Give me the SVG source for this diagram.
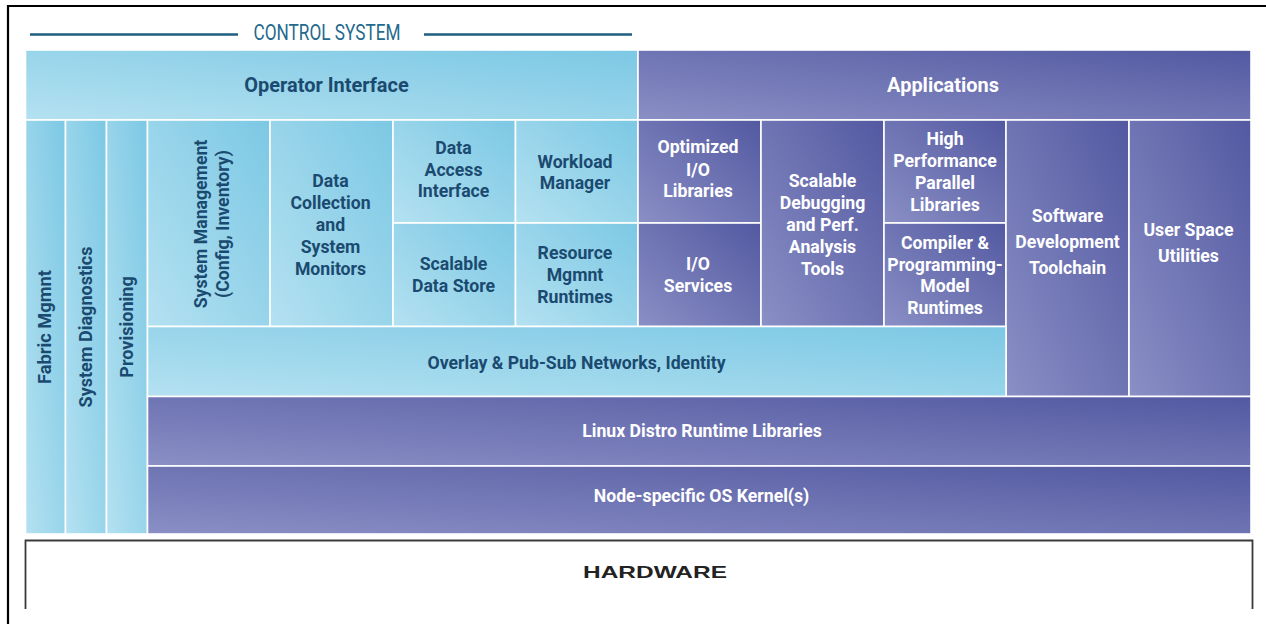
<svg xmlns="http://www.w3.org/2000/svg" width="1266" height="624" viewBox="0 0 1266 624">
<defs>
<linearGradient id="gb" x1="0" y1="1" x2="1" y2="0"><stop offset="0" stop-color="#b4e1f1"/><stop offset="1" stop-color="#7cc8e4"/></linearGradient>
<linearGradient id="gp" x1="0" y1="1" x2="1" y2="0"><stop offset="0" stop-color="#8a8fc5"/><stop offset="1" stop-color="#5359a1"/></linearGradient>
<style>
.cb{fill:url(#gb);stroke:#fff;stroke-width:1.6}
.cp{fill:url(#gp);stroke:#fff;stroke-width:1.6}
.t{font-family:Roboto,"Liberation Sans",sans-serif;font-weight:700;font-size:19px;text-anchor:middle}
.h{font-size:21px}
.b{fill:#1b4a70}
.w{fill:#fff}
</style>
</defs>
<rect width="1266" height="624" fill="#fff"/>
<path d="M8 624V6H1266" fill="none" stroke="#000" stroke-width="2.2"/>
<g id="control-system">
<line x1="30" y1="34.5" x2="238" y2="34.5" stroke="#1f5f80" stroke-width="2.5"/>
<line x1="424" y1="34.5" x2="632" y2="34.5" stroke="#1f5f80" stroke-width="2.5"/>
<text x="327" y="40" font-family="Roboto,'Liberation Sans',sans-serif" font-size="22" fill="#236a8c" text-anchor="middle" textLength="147" lengthAdjust="spacingAndGlyphs">CONTROL SYSTEM</text>
</g>
<g id="operator-interface"><rect class="cb" x="25.5" y="50" width="612.5" height="70"/><text class="t h b" transform="matrix(0.95 0 0 1 326.5 0)" x="0" y="92.5">Operator Interface</text></g>
<g id="applications"><rect class="cp" x="638" y="50" width="613" height="70"/><text class="t h w" transform="matrix(0.95 0 0 1 943 0)" x="0" y="92.5">Applications</text></g>
<g id="fabric-mgmnt"><rect class="cb" x="25.5" y="120" width="40" height="414"/><text class="t b" transform="translate(44.5 327) rotate(-90) scale(0.96 1)" x="0" y="6.8">Fabric Mgmnt</text></g>
<g id="system-diagnostics"><rect class="cb" x="65.5" y="120" width="41" height="414"/><text class="t b" transform="translate(85.5 327) rotate(-90) scale(0.95 1)" x="0" y="6.8">System Diagnostics</text></g>
<g id="provisioning"><rect class="cb" x="106.5" y="120" width="41" height="414"/><text class="t b" transform="translate(126.5 327) rotate(-90) scale(0.95 1)" x="0" y="6.8">Provisioning</text></g>
<g id="system-management"><rect class="cb" x="147.5" y="120" width="122.5" height="206.5"/><text class="t b" transform="translate(200 224) rotate(-90) scale(0.93 1)"><tspan x="0" y="6.8">System Management</tspan><tspan x="0" y="28.8">(Config, Inventory)</tspan></text></g>
<g id="data-collection"><rect class="cb" x="270" y="120" width="123" height="206.5"/><text class="t b" transform="matrix(0.93 0 0 1 330.5 0)"><tspan x="0" y="187.5">Data</tspan><tspan x="0" y="209.5">Collection</tspan><tspan x="0" y="231.2">and</tspan><tspan x="0" y="253.5">System</tspan><tspan x="0" y="275.5">Monitors</tspan></text></g>
<g id="data-access-interface"><rect class="cb" x="393" y="120" width="122.5" height="103"/><text class="t b" transform="matrix(0.93 0 0 1 453.5 0)"><tspan x="0" y="154.1">Data</tspan><tspan x="0" y="175.8">Access</tspan><tspan x="0" y="197.5">Interface</tspan></text></g>
<g id="workload-manager"><rect class="cb" x="515.5" y="120" width="122.5" height="103"/><text class="t b" transform="matrix(0.93 0 0 1 575 0)"><tspan x="0" y="167.8">Workload</tspan><tspan x="0" y="189.5">Manager</tspan></text></g>
<g id="scalable-data-store"><rect class="cb" x="393" y="223" width="122.5" height="103.5"/><text class="t b" transform="matrix(0.93 0 0 1 453.5 0)"><tspan x="0" y="270.1">Scalable</tspan><tspan x="0" y="291.8">Data Store</tspan></text></g>
<g id="resource-mgmnt-runtimes"><rect class="cb" x="515.5" y="223" width="122.5" height="103.5"/><text class="t b" transform="matrix(0.93 0 0 1 575 0)"><tspan x="0" y="259.5">Resource</tspan><tspan x="0" y="281.1">Mgmnt</tspan><tspan x="0" y="302.8">Runtimes</tspan></text></g>
<g id="optimized-io-libraries"><rect class="cp" x="638" y="120" width="123" height="103"/><text class="t w" transform="matrix(0.93 0 0 1 698 0)"><tspan x="0" y="153.5">Optimized</tspan><tspan x="0" y="175.8">I/O</tspan><tspan x="0" y="197.5">Libraries</tspan></text></g>
<g id="io-services"><rect class="cp" x="638" y="223" width="123" height="103.5"/><text class="t w" transform="matrix(0.93 0 0 1 698 0)"><tspan x="0" y="270.1">I/O</tspan><tspan x="0" y="292.5">Services</tspan></text></g>
<g id="scalable-debugging"><rect class="cp" x="761" y="120" width="123" height="206.5"/><text class="t w" transform="matrix(0.93 0 0 1 822.5 0)"><tspan x="0" y="187.5">Scalable</tspan><tspan x="0" y="209.5">Debugging</tspan><tspan x="0" y="231.2">and Perf.</tspan><tspan x="0" y="253.5">Analysis</tspan><tspan x="0" y="275.5">Tools</tspan></text></g>
<g id="high-performance-parallel-libraries"><rect class="cp" x="884" y="120" width="122" height="103"/><text class="t w" transform="matrix(0.93 0 0 1 945 0)"><tspan x="0" y="145.1">High</tspan><tspan x="0" y="166.8">Performance</tspan><tspan x="0" y="188.8">Parallel</tspan><tspan x="0" y="210.8">Libraries</tspan></text></g>
<g id="compiler-runtimes"><rect class="cp" x="884" y="223" width="122" height="103.5"/><text class="t w" transform="matrix(0.93 0 0 1 945 0)"><tspan x="0" y="249.1">Compiler &amp;</tspan><tspan x="0" y="270.8">Programming-</tspan><tspan x="0" y="292.5">Model</tspan><tspan x="0" y="314.5">Runtimes</tspan></text></g>
<g id="software-development-toolchain"><rect class="cp" x="1006" y="120" width="123" height="276.5"/><text class="t w" transform="matrix(0.93 0 0 1 1067.5 0)"><tspan x="0" y="221.8">Software</tspan><tspan x="0" y="248.5">Development</tspan><tspan x="0" y="274.5">Toolchain</tspan></text></g>
<g id="user-space-utilities"><rect class="cp" x="1129" y="120" width="122" height="276.5"/><text class="t w" transform="matrix(0.93 0 0 1 1188.5 0)"><tspan x="0" y="236.1">User Space</tspan><tspan x="0" y="262.5">Utilities</tspan></text></g>
<g id="overlay-networks"><rect class="cb" x="147.5" y="326.5" width="858.5" height="70"/><text class="t b" transform="matrix(0.93 0 0 1 576.5 0)" x="0" y="368.8">Overlay &amp; Pub-Sub Networks, Identity</text></g>
<g id="linux-distro"><rect class="cp" x="147.5" y="396.5" width="1103.5" height="69.5"/><text class="t w" transform="matrix(0.93 0 0 1 702 0)" x="0" y="436.8">Linux Distro Runtime Libraries</text></g>
<g id="os-kernel"><rect class="cp" x="147.5" y="466" width="1103.5" height="68"/><text class="t w" transform="matrix(0.93 0 0 1 701.5 0)" x="0" y="501.8">Node-specific OS Kernel(s)</text></g>
<g id="hardware"><path d="M25.5 609V540.5H1252.5V609" fill="none" stroke="#3a3a3a" stroke-width="1.8"/><text x="655" y="578" font-family="'Liberation Sans',Arial,sans-serif" font-weight="700" font-size="16.5" fill="#222" text-anchor="middle" textLength="144" lengthAdjust="spacingAndGlyphs">HARDWARE</text></g>
<g id="connectors"/>
</svg>
